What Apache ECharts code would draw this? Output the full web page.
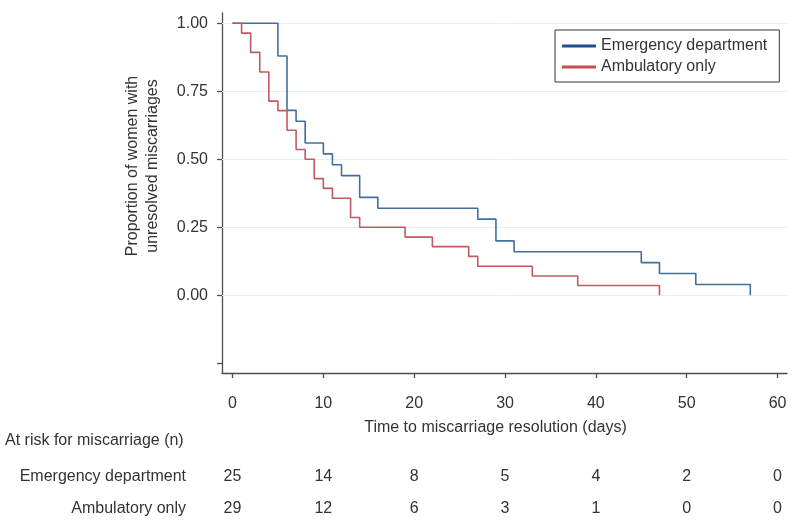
<!DOCTYPE html>
<html>
<head>
<meta charset="utf-8">
<script src="https://cdn.jsdelivr.net/npm/echarts@6/dist/echarts.min.js"></script>
<style>
html,body{margin:0;padding:0;background:#fff;}
#chart{width:800px;height:525px;}
</style>
</head>
<body>
<div id="chart"></div>
<script>
// Kaplan-Meier step data (time in days, proportion unresolved)
var edTimes  = [0, 5, 6, 7, 8, 10, 11, 12, 14, 16, 27, 29, 31, 45, 47, 51, 57];
var edSurv   = [1.00, 0.88, 0.68, 0.64, 0.56, 0.52, 0.48, 0.44, 0.36, 0.32, 0.28, 0.20, 0.16, 0.12, 0.08, 0.04, 0.00];
var ambTimes = [0, 1, 2, 3, 4, 5, 6, 7, 8, 9, 10, 11, 13, 14, 19, 22, 26, 27, 33, 38, 47];
var ambSurv  = [1.00, 0.964, 0.893, 0.821, 0.714, 0.679, 0.607, 0.536, 0.500, 0.429, 0.393, 0.357, 0.286, 0.250, 0.214, 0.179, 0.143, 0.107, 0.071, 0.036, 0.00];

// At-risk table
var riskTimes = [0, 10, 20, 30, 40, 50, 60];
var edRisk    = [25, 14, 8, 5, 4, 2, 0];
var ambRisk   = [29, 12, 6, 3, 1, 0, 0];

// Axis ticks
var xTicks      = [0, 10, 20, 30, 40, 50, 60];
var yTicks      = [-0.25, 0, 0.25, 0.5, 0.75, 1];
var yLabelTicks = [0, 0.25, 0.5, 0.75, 1];
var gridValues  = [0, 0.25, 0.5, 0.75, 1];

var groupNames = ['Emergency department', 'Ambulatory only'];
var lineColors = ['#41709e', '#c05a60'];
var keyColors  = ['#1f4e8c', '#cc4c4c'];

function pairs(xs, ys) { return xs.map(function (x, i) { return [x, ys[i]]; }); }
function riskData(name, vals) { return riskTimes.map(function (t, i) { return [t, name, vals[i]]; }); }

var FONT = 'Liberation Sans, Arial, sans-serif';
var TXT = '#333333';
var AX = '#4d4d4d';
var FS = 16;

var chart = echarts.init(document.getElementById('chart'), null, {renderer: 'canvas'});
chart.setOption({
  backgroundColor: '#ffffff',
  animation: false,
  textStyle: {fontFamily: FONT},
  grid: [
    {left: 222, right: 13, top: 13, bottom: 152, containLabel: false},
    {left: 222, right: 13, top: 461, height: 64, containLabel: false}
  ],
  legend: {
    orient: 'vertical',
    left: 555, top: 30,
    padding: [8, 12, 7, 7],
    itemWidth: 34, itemHeight: 3, itemGap: 5,
    borderColor: '#333', borderWidth: 1,
    textStyle: {fontSize: FS, lineHeight: 16, color: TXT, fontFamily: FONT},
    data: [
      {name: groupNames[0], icon: 'rect', itemStyle: {color: keyColors[0]}},
      {name: groupNames[1], icon: 'rect', itemStyle: {color: keyColors[1]}}
    ],
    itemStyle: {borderWidth: 0}
  },
  xAxis: [
    {
      type: 'value', gridIndex: 0, min: -1.156, max: 61.04,
      name: 'Time to miscarriage resolution (days)', nameLocation: 'middle', nameGap: 47,
      nameTextStyle: {fontSize: FS, color: TXT, fontFamily: FONT, padding: [0, 18, 0, 0]},
      axisLine: {show: true, onZero: false, lineStyle: {color: AX, width: 1.3}},
      axisTick: {show: true, length: 5, lineStyle: {color: AX, width: 1.3}, customValues: xTicks},
      axisLabel: {show: true, fontSize: FS, color: TXT, margin: 23, customValues: xTicks, formatter: function (v) { return String(v); }},
      splitLine: {show: false}
    },
    {
      type: 'value', gridIndex: 1, min: -1.156, max: 61.04, show: false
    }
  ],
  yAxis: [
    {
      type: 'value', gridIndex: 0, min: -0.2856, max: 1.0379,
      axisLine: {show: true, onZero: false, lineStyle: {color: AX, width: 1.3}},
      axisTick: {show: true, length: 5, lineStyle: {color: AX, width: 1.3}, customValues: yTicks},
      axisLabel: {show: true, fontSize: FS, color: TXT, margin: 14, customValues: yLabelTicks, formatter: function (v) { return v.toFixed(2); }},
      splitLine: {show: false}
    },
    {
      type: 'category', gridIndex: 1, data: [groupNames[1], groupNames[0]],
      axisLine: {show: false}, axisTick: {show: false}, splitLine: {show: false},
      axisLabel: {fontSize: FS, color: TXT, margin: 36}
    }
  ],
  graphic: [
    {
      type: 'text', x: 143, y: 166, rotation: Math.PI / 2,
      style: {text: 'Proportion of women with\nunresolved miscarriages', fontSize: FS, lineHeight: 20,
              fill: TXT, fontFamily: FONT, align: 'center', verticalAlign: 'middle'}
    },
    {
      type: 'text', x: 5, y: 441,
      style: {text: 'At risk for miscarriage (n)', fontSize: FS, fill: TXT, fontFamily: FONT,
              align: 'left', verticalAlign: 'middle'}
    }
  ],
  series: [
    {
      name: groupNames[0], type: 'line', step: 'end', xAxisIndex: 0, yAxisIndex: 0,
      symbol: 'none', data: pairs(edTimes, edSurv), z: 3,
      lineStyle: {color: lineColors[0], width: 1.6}, itemStyle: {color: keyColors[0]},
      markLine: {
        silent: true, symbol: ['none', 'none'], label: {show: false}, z: 1,
        lineStyle: {color: '#e3eef6', width: 1, type: 'solid'},
        emphasis: {disabled: true},
        data: gridValues.map(function (v) { return {yAxis: v}; })
      }
    },
    {
      name: groupNames[1], type: 'line', step: 'end', xAxisIndex: 0, yAxisIndex: 0,
      symbol: 'none', data: pairs(ambTimes, ambSurv), z: 4,
      lineStyle: {color: lineColors[1], width: 1.6}, itemStyle: {color: keyColors[1]}
    },
    {
      type: 'scatter', xAxisIndex: 1, yAxisIndex: 1, symbolSize: 0, silent: true,
      itemStyle: {color: TXT, opacity: 1},
      data: riskData(groupNames[0], edRisk).concat(riskData(groupNames[1], ambRisk)),
      label: {show: true, position: 'inside', fontSize: FS, color: TXT, fontFamily: FONT, opacity: 1,
              textBorderWidth: 0, textBorderColor: 'transparent',
              formatter: function (p) { return String(p.value[2]); }}
    }
  ]
});
</script>
</body>
</html>
